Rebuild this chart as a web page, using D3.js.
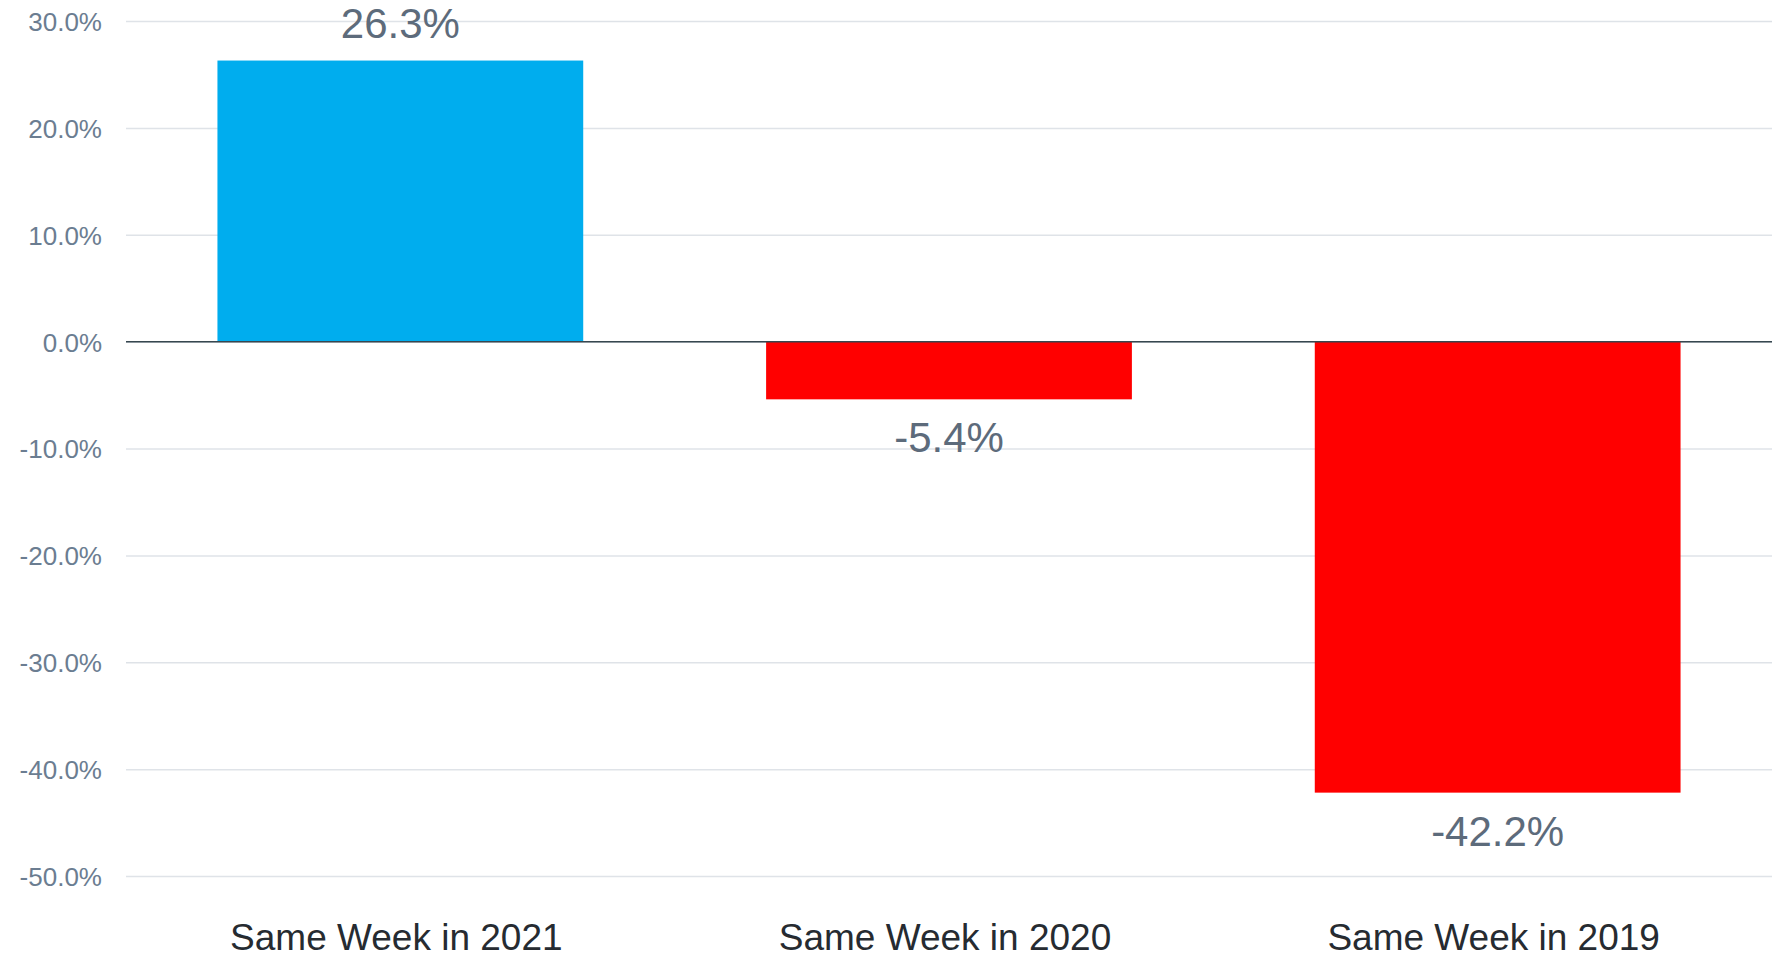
<!DOCTYPE html>
<html>
<head>
<meta charset="utf-8">
<script src="https://cdn.jsdelivr.net/npm/d3@7"></script>
<style>
  html, body { margin: 0; padding: 0; background: #fff; }
  svg { display: block; font-family: "Liberation Sans", Arial, Helvetica, sans-serif; }
</style>
</head>
<body>
<svg id="chart" width="1781" height="957"></svg>
<script>
const categories = ['Same Week in 2021', 'Same Week in 2020', 'Same Week in 2019'];
const values = [26.3, -5.4, -42.2];
const yTicks = [30, 20, 10, 0, -10, -20, -30, -40, -50];

const width = 1781;
const height = 957;
const margin = { top: 21, right: 9, bottom: 81, left: 126 };

const svg = d3.select('#chart');

const x = d3.scaleBand()
  .domain(categories)
  .range([margin.left, width - margin.right])
  .paddingInner(1 / 3)
  .paddingOuter(1 / 6);

const y = d3.scaleLinear()
  .domain([30, -50])
  .range([margin.top, height - margin.bottom]);

// plain hyphen for negatives, like the original
const fmt = d => d3.format('.1f')(d).replace('\u2212', '-') + '%';

// grid lines
const grid = svg.append('g')
  .attr('class', 'grid')
  .attr('transform', 'translate(' + margin.left + ',0)')
  .call(d3.axisLeft(y)
    .tickValues(yTicks)
    .tickSize(-(width - margin.right - margin.left))
    .tickFormat(''));
grid.select('.domain').remove();
grid.selectAll('line')
  .attr('stroke', '#dfe3e8')
  .attr('stroke-width', 1.5);

// y tick labels
const yAxis = svg.append('g')
  .attr('transform', 'translate(' + (margin.left - 24) + ',0)')
  .call(d3.axisLeft(y).tickValues(yTicks).tickSize(0).tickPadding(0).tickFormat(fmt));
yAxis.select('.domain').remove();
yAxis.selectAll('text')
  .attr('font-size', 26)
  .attr('font-family', '"Liberation Sans", Arial, sans-serif')
  .attr('fill', '#6b7d91')
  .attr('dy', '0.36em');

// bars
svg.append('g')
  .selectAll('rect')
  .data(values)
  .enter()
  .append('rect')
  .attr('x', (d, i) => x(categories[i]))
  .attr('width', x.bandwidth())
  .attr('y', d => y(Math.max(0, d)))
  .attr('height', d => Math.abs(y(d) - y(0)))
  .attr('fill', d => d >= 0 ? '#00adee' : '#ff0000');

// zero line
svg.append('line')
  .attr('x1', margin.left)
  .attr('x2', width - margin.right)
  .attr('y1', y(0))
  .attr('y2', y(0))
  .attr('stroke', '#37474f')
  .attr('stroke-width', 1.5);

// value labels
svg.append('g')
  .selectAll('text')
  .data(values)
  .enter()
  .append('text')
  .attr('x', (d, i) => x(categories[i]) + x.bandwidth() / 2)
  .attr('y', d => d >= 0 ? y(d) - 23 : y(d) + 53)
  .attr('text-anchor', 'middle')
  .attr('font-size', 42)
  .attr('fill', '#5d6b7b')
  .text(fmt);

// category labels
const xAxis = svg.append('g')
  .attr('transform', 'translate(0,' + (height - margin.bottom) + ')')
  .call(d3.axisBottom(x).tickSize(0).tickPadding(0));
xAxis.select('.domain').remove();
xAxis.selectAll('text')
  .attr('font-size', 37)
  .attr('font-family', '"Liberation Sans", Arial, sans-serif')
  .attr('fill', '#262b31')
  .attr('dy', null)
  .attr('dx', -4)
  .attr('y', 74);
</script>
</body>
</html>
